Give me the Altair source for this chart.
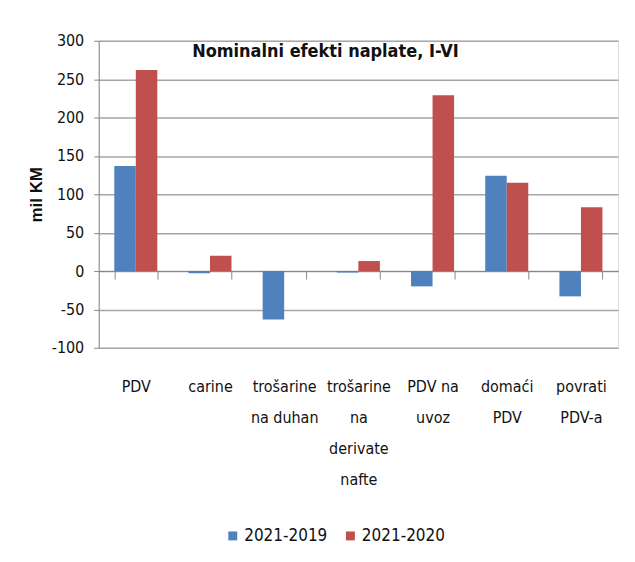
import altair as alt
import pandas as pd

categories = ["PDV", "carine", "trošarine|na duhan", "trošarine|na|derivate|nafte",
              "PDV na|uvoz", "domaći|PDV", "povrati|PDV-a"]
series_names = ["2021-2019", "2021-2020"]
values_2019 = [137, -3, -63, -2, -20, 124, -33]
values_2020 = [262, 20, 0, 13, 229, 115, 83]
y_ticks = [-100, -50, 0, 50, 100, 150, 200, 250, 300]

rows = []
for c, a, b in zip(categories, values_2019, values_2020):
    rows.append({"kat": c, "serija": series_names[0], "v": a})
    rows.append({"kat": c, "serija": series_names[1], "v": b})
df = pd.DataFrame(rows)

FONT = "Liberation Sans Narrow, DejaVu Sans Condensed, Arial Narrow, sans-serif"

chart = alt.Chart(df).mark_bar().encode(
    x=alt.X("kat:N", sort=categories,
            scale=alt.Scale(paddingInner=0.42, paddingOuter=0.21),
            axis=alt.Axis(title=None, labelAngle=0, labelExpr="split(datum.label, '|')",
                          labelFont=FONT, labelFontSize=16, labelColor="#111",
                          labelLineHeight=31, labelBaseline="top",
                          offset=-77, tickBand="extent", tickSize=8,
                          labelPadding=100, domainColor="#888", tickColor="#888",
                          grid=False)),
    xOffset=alt.XOffset("serija:N", sort=series_names),
    y=alt.Y("v:Q", scale=alt.Scale(domain=[-100, 300], nice=False),
            axis=alt.Axis(title="mil KM", values=y_ticks, tickSize=5, labelPadding=10,
                          labelExpr="'' + datum.value",
                          labelFont=FONT, labelFontSize=16, labelColor="#111",
                          titleFont="Liberation Sans, Arial, sans-serif", titleFontSize=17,
                          titleFontWeight="bold", titleColor="#111", titlePadding=6,
                          domainColor="#888", tickColor="#888",
                          gridColor="#a6a6a6", gridWidth=1.5)),
    color=alt.Color("serija:N", sort=series_names,
                    scale=alt.Scale(domain=series_names, range=["#4F81BD", "#C0504D"]),
                    legend=alt.Legend(title=None, orient="none", direction="horizontal",
                                      legendX=126, legendY=488, symbolType="square",
                                      symbolSize=80, symbolStrokeWidth=0,
                                      labelFont=FONT, labelFontSize=17, labelColor="#111",
                                      columnPadding=14, labelOffset=3)),
).properties(
    width=521, height=308,
    title=alt.TitleParams("Nominalni  efekti naplate, I-VI", font=FONT, fontSize=18,
                          fontWeight="bold", color="#111", anchor="middle",
                          dx=-33, dy=30, offset=2),
    padding={"left": 19, "right": 9, "top": 24, "bottom": 5},
).configure_view(stroke=None).configure(background="white")

chart.save("out.html", embed_options={"renderer": "svg", "actions": False})
